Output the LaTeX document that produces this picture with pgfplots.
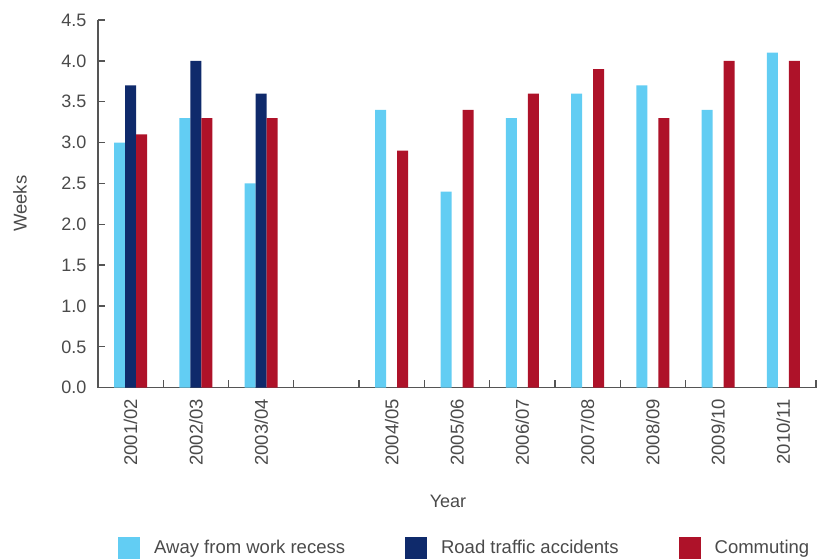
\documentclass[border=0pt]{standalone}
\usepackage{fontspec}
\setmainfont{Liberation Sans}
\usepackage{pgfplots}
\pgfplotsset{compat=1.18}

\definecolor{awayblue}{HTML}{62CDF3}
\definecolor{roadnavy}{HTML}{0F2A6B}
\definecolor{commred}{HTML}{AE1229}
\definecolor{txt}{HTML}{4A4A4A}
\definecolor{axisgrey}{HTML}{555555}

\begin{document}
\begin{tikzpicture}
\begin{axis}[
    at={(0,0)}, anchor=south west,
    scale only axis, width=718pt, height=367.7pt,
    ybar=0pt, bar width=11pt,
    xmin=-0.5, xmax=10.5, ymin=0, ymax=4.5,
    axis x line*=bottom, axis y line*=left,
    axis line style={axisgrey, line width=1.3pt},
    every tick/.style={axisgrey, line width=1.3pt},
    major tick length=7pt, minor tick length=8pt,
    tick align=inside,
    ytick={0,0.5,1,1.5,2,2.5,3,3.5,4,4.5},
    yticklabel style={/pgf/number format/fixed, /pgf/number format/fixed zerofill,
        /pgf/number format/precision=1, /pgf/number format/assume math mode=true},
    yticklabel shift=8pt,
    y tick label style={font=\fontsize{18}{20}\selectfont, text=txt},
    xtick={0,1,2,4,5,6,7,8,9,10},
    xticklabels={2001/02,2002/03,2003/04,2004/05,2005/06,2006/07,2007/08,2008/09,2009/10,2010/11},
    major x tick style={draw=none},
    minor xtick={0.5,1.5,2.5,3.5,4.5,5.5,6.5,7.5,8.5,10.5},
    x tick label style={rotate=90, anchor=east, inner sep=0pt, font=\fontsize{18.5}{20}\selectfont, text=txt},
    xticklabel shift=11pt,
    xlabel={Year}, ylabel={Weeks},
    every axis x label/.style={at={(axis description cs:0.5,0)}, xshift=-9pt, yshift=-114pt, anchor=center, font=\fontsize{18}{20}\selectfont, text=txt},
    every axis y label/.style={at={(axis description cs:0,0.5)}, xshift=-78pt, rotate=90, anchor=center, font=\fontsize{18.5}{20}\selectfont, text=txt},
    legend columns=3,
    legend style={at={(axis description cs:0.0279,-0.405)}, anchor=north west, draw=none, fill=none, inner sep=0pt,
        font=\fontsize{18.5}{20}\selectfont, text=txt,
        /tikz/every odd column/.append style={column sep=12pt},
        /tikz/every even column/.append style={column sep=58pt}},
    legend image code/.code={\fill[#1] (0pt,-11pt) rectangle (22pt,11pt);},
]
\addplot[fill=awayblue, draw=none] coordinates {
    (0,3.0) (1,3.3) (2,2.5) (4,3.4) (5,2.4) (6,3.3) (7,3.6) (8,3.7) (9,3.4) (10,4.1)
};
\addlegendentry{Away from work recess}
\addplot[fill=roadnavy, draw=none] coordinates {
    (0,3.7) (1,4.0) (2,3.6)
};
\addlegendentry{Road traffic accidents}
\addplot[fill=commred, draw=none] coordinates {
    (0,3.1) (1,3.3) (2,3.3) (4,2.9) (5,3.4) (6,3.6) (7,3.9) (8,3.3) (9,4.0) (10,4.0)
};
\addlegendentry{Commuting}
\end{axis}
\path (-98pt,-171.3pt) rectangle (719pt,387.7pt);
\end{tikzpicture}
\end{document}
